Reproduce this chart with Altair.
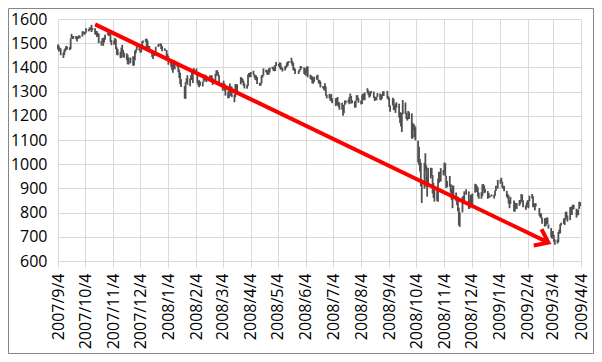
import altair as alt
import pandas as pd

# ---- data (daily low / high) ----
months = ["2007-09", "2007-10", "2007-11", "2007-12", "2008-01", "2008-02", "2008-03",
          "2008-04", "2008-05", "2008-06", "2008-07", "2008-08", "2008-09", "2008-10",
          "2008-11", "2008-12", "2009-01", "2009-02", "2009-03", "2009-04"]

days = [
    [4, 5, 6, 7, 10, 11, 12, 13, 14, 17, 18, 19, 20, 21, 24, 25, 26, 27, 28],
    [1, 2, 3, 4, 5, 8, 9, 10, 11, 12, 15, 16, 17, 18, 19, 22, 23, 24, 25, 26, 29, 30, 31],
    [1, 2, 5, 6, 7, 8, 9, 12, 13, 14, 15, 16, 19, 20, 21, 23, 26, 27, 28, 29, 30],
    [3, 4, 5, 6, 7, 10, 11, 12, 13, 14, 17, 18, 19, 20, 21, 24, 26, 27, 28, 31],
    [2, 3, 4, 7, 8, 9, 10, 11, 14, 15, 16, 17, 18, 22, 23, 24, 25, 28, 29, 30, 31],
    [1, 4, 5, 6, 7, 8, 11, 12, 13, 14, 15, 19, 20, 21, 22, 25, 26, 27, 28, 29],
    [3, 4, 5, 6, 7, 10, 11, 12, 13, 14, 17, 18, 19, 20, 24, 25, 26, 27, 28, 31],
    [1, 2, 3, 4, 7, 8, 9, 10, 11, 14, 15, 16, 17, 18, 21, 22, 23, 24, 25, 28, 29, 30],
    [1, 2, 5, 6, 7, 8, 9, 12, 13, 14, 15, 16, 19, 20, 21, 22, 23, 27, 28, 29, 30],
    [2, 3, 4, 5, 6, 9, 10, 11, 12, 13, 16, 17, 18, 19, 20, 23, 24, 25, 26, 27, 30],
    [1, 2, 3, 7, 8, 9, 10, 11, 14, 15, 16, 17, 18, 21, 22, 23, 24, 25, 28, 29, 30, 31],
    [1, 4, 5, 6, 7, 8, 11, 12, 13, 14, 15, 18, 19, 20, 21, 22, 25, 26, 27, 28, 29],
    [2, 3, 4, 5, 8, 9, 10, 11, 12, 15, 16, 17, 18, 19, 22, 23, 24, 25, 26, 29, 30],
    [1, 2, 3, 6, 7, 8, 9, 10, 13, 14, 15, 16, 17, 20, 21, 22, 23, 24, 27, 28, 29, 30, 31],
    [3, 4, 5, 6, 7, 10, 11, 12, 13, 14, 17, 18, 19, 20, 21, 24, 25, 26, 28],
    [1, 2, 3, 4, 5, 8, 9, 10, 11, 12, 15, 16, 17, 18, 19, 22, 23, 24, 26, 29, 30, 31],
    [2, 5, 6, 7, 8, 9, 12, 13, 14, 15, 16, 20, 21, 22, 23, 26, 27, 28, 29, 30],
    [2, 3, 4, 5, 6, 9, 10, 11, 12, 13, 17, 18, 19, 20, 23, 24, 25, 26, 27],
    [2, 3, 4, 5, 6, 9, 10, 11, 12, 13, 16, 17, 18, 19, 20, 23, 24, 25, 26, 27, 30, 31],
    [1, 2, 3],
]

lows = [
    [1474, 1466, 1470, 1450, 1439, 1451, 1465, 1472, 1474, 1471, 1476, 1519, 1517, 1519, 1516, 1507, 1517, 1525, 1520],
    [1527, 1542, 1535, 1537, 1543, 1549, 1553, 1556, 1546, 1554, 1537, 1534, 1526, 1531, 1500, 1490, 1506, 1489, 1503, 1514, 1535, 1530, 1531],
    [1505, 1492, 1494, 1499, 1475, 1451, 1450, 1438, 1439, 1462, 1443, 1440, 1430, 1413, 1412, 1417, 1407, 1408, 1428, 1458, 1470],
    [1469, 1460, 1463, 1485, 1502, 1505, 1476, 1469, 1476, 1467, 1443, 1435, 1447, 1449, 1460, 1484, 1489, 1476, 1467, 1468],
    [1442, 1443, 1411, 1403, 1389, 1378, 1394, 1392, 1402, 1380, 1356, 1331, 1319, 1271, 1270, 1337, 1328, 1322, 1349, 1348, 1335],
    [1376, 1379, 1335, 1325, 1318, 1324, 1321, 1340, 1349, 1344, 1339, 1343, 1341, 1337, 1327, 1344, 1365, 1373, 1364, 1325],
    [1320, 1304, 1320, 1303, 1283, 1272, 1274, 1308, 1282, 1277, 1256, 1277, 1298, 1295, 1330, 1340, 1337, 1324, 1313, 1312],
    [1323, 1360, 1359, 1360, 1370, 1358, 1349, 1347, 1331, 1324, 1324, 1334, 1358, 1366, 1380, 1371, 1370, 1370, 1379, 1394, 1386, 1384],
    [1385, 1406, 1404, 1398, 1391, 1391, 1383, 1387, 1397, 1403, 1406, 1418, 1416, 1406, 1388, 1387, 1373, 1373, 1382, 1389, 1396],
    [1373, 1370, 1366, 1377, 1359, 1352, 1348, 1334, 1333, 1340, 1349, 1350, 1335, 1330, 1317, 1313, 1305, 1313, 1283, 1272, 1272],
    [1262, 1260, 1252, 1240, 1245, 1244, 1236, 1225, 1226, 1200, 1211, 1245, 1251, 1254, 1248, 1274, 1251, 1252, 1234, 1234, 1262, 1266],
    [1254, 1247, 1249, 1276, 1264, 1265, 1294, 1285, 1275, 1280, 1292, 1274, 1261, 1265, 1264, 1278, 1266, 1264, 1270, 1282, 1282],
    [1272, 1266, 1236, 1217, 1243, 1224, 1223, 1212, 1233, 1192, 1170, 1156, 1133, 1207, 1207, 1187, 1180, 1186, 1187, 1106, 1106],
    [1141, 1112, 1098, 1007, 996, 970, 909, 840, 899, 973, 907, 866, 908, 941, 952, 879, 860, 845, 848, 845, 922, 931, 928],
    [954, 967, 951, 902, 905, 906, 882, 852, 818, 868, 847, 830, 806, 747, 741, 801, 835, 846, 874],
    [815, 817, 837, 834, 818, 882, 885, 890, 867, 857, 857, 868, 896, 880, 883, 857, 862, 862, 866, 858, 870, 889],
    [899, 919, 927, 903, 898, 888, 864, 858, 837, 818, 836, 804, 805, 818, 815, 828, 836, 846, 844, 822],
    [811, 821, 829, 818, 847, 858, 822, 823, 809, 825, 787, 780, 776, 754, 742, 745, 752, 752, 734],
    [699, 692, 697, 679, 667, 672, 677, 713, 714, 747, 753, 749, 771, 779, 763, 769, 805, 790, 814, 814, 779, 788],
    [790, 815, 826],
]

highs = [
    [1496, 1489, 1481, 1478, 1462, 1474, 1479, 1489, 1486, 1484, 1520, 1539, 1529, 1530, 1530, 1518, 1529, 1532, 1532],
    [1549, 1549, 1547, 1544, 1562, 1558, 1565, 1565, 1576, 1563, 1562, 1549, 1550, 1542, 1540, 1509, 1521, 1520, 1524, 1535, 1545, 1541, 1553],
    [1545, 1513, 1511, 1521, 1516, 1483, 1475, 1464, 1482, 1493, 1472, 1461, 1458, 1452, 1440, 1441, 1446, 1429, 1469, 1474, 1488],
    [1482, 1472, 1486, 1508, 1511, 1518, 1519, 1511, 1489, 1488, 1468, 1461, 1464, 1461, 1485, 1497, 1499, 1498, 1488, 1479],
    [1472, 1456, 1447, 1423, 1428, 1410, 1431, 1420, 1418, 1416, 1391, 1378, 1351, 1323, 1339, 1355, 1368, 1354, 1368, 1385, 1385],
    [1397, 1396, 1381, 1345, 1347, 1342, 1341, 1369, 1369, 1370, 1351, 1368, 1363, 1368, 1355, 1374, 1388, 1388, 1380, 1368],
    [1335, 1331, 1345, 1334, 1310, 1300, 1321, 1333, 1321, 1321, 1288, 1331, 1331, 1330, 1360, 1357, 1353, 1345, 1334, 1328],
    [1371, 1377, 1376, 1381, 1386, 1372, 1368, 1367, 1360, 1336, 1337, 1367, 1369, 1396, 1391, 1388, 1386, 1396, 1399, 1403, 1398, 1404],
    [1410, 1422, 1414, 1421, 1419, 1404, 1398, 1405, 1408, 1420, 1424, 1426, 1440, 1427, 1419, 1400, 1394, 1387, 1392, 1406, 1404],
    [1400, 1396, 1386, 1404, 1404, 1370, 1366, 1362, 1353, 1361, 1366, 1370, 1350, 1348, 1342, 1323, 1323, 1335, 1321, 1288, 1291],
    [1285, 1290, 1272, 1273, 1274, 1278, 1257, 1255, 1254, 1234, 1246, 1263, 1263, 1267, 1278, 1292, 1282, 1264, 1260, 1263, 1285, 1285],
    [1273, 1263, 1285, 1292, 1289, 1297, 1314, 1305, 1294, 1300, 1302, 1300, 1279, 1277, 1279, 1294, 1292, 1276, 1289, 1301, 1301],
    [1303, 1281, 1275, 1243, 1275, 1270, 1244, 1250, 1256, 1250, 1214, 1214, 1211, 1265, 1255, 1213, 1197, 1220, 1215, 1210, 1170],
    [1167, 1161, 1153, 1097, 1072, 1022, 1006, 936, 1006, 1045, 995, 947, 985, 985, 985, 955, 922, 896, 893, 941, 969, 964, 984],
    [976, 1007, 1004, 952, 931, 951, 918, 898, 913, 911, 883, 866, 865, 820, 801, 865, 869, 888, 897],
    [888, 851, 873, 875, 879, 919, 917, 911, 904, 883, 884, 917, 918, 912, 898, 889, 881, 870, 875, 874, 891, 911],
    [935, 937, 944, 928, 911, 911, 890, 877, 872, 852, 865, 850, 841, 840, 839, 852, 852, 877, 874, 851],
    [830, 842, 851, 851, 870, 877, 868, 839, 836, 839, 819, 797, 796, 779, 777, 775, 780, 779, 751],
    [736, 712, 724, 708, 689, 689, 720, 730, 752, 758, 775, 778, 803, 804, 788, 823, 823, 826, 833, 832, 816, 810],
    [813, 845, 843],
]

# axis ticks: the 4th of every month
tick_months = [(2007, m) for m in range(9, 13)] + [(2008, m) for m in range(1, 13)] + [(2009, m) for m in range(1, 5)]
y_ticks = [600, 700, 800, 900, 1000, 1100, 1200, 1300, 1400, 1500, 1600]

# red trend arrow (start, tip) in data units
arrow_dates = ["2007-10-15", "2009-02-27"]
arrow_values = [1578, 676]

# ---- build tables ----
rows = []
for m, ds, lo, hi in zip(months, days, lows, highs):
    assert len(ds) == len(lo) == len(hi), m
    for d, l, h in zip(ds, lo, hi):
        rows.append({"date": f"{m}-{d:02d}", "low": l, "high": h})
df = pd.DataFrame(rows)

arrow_df = pd.DataFrame({"date": [arrow_dates[0]], "date2": [arrow_dates[1]],
                         "low": [arrow_values[0]], "high": [arrow_values[1]]})
tip_df = pd.DataFrame({"date": [arrow_dates[1]], "low": [arrow_values[1]]})

GRID = "#d9d9d9"
FONT = "Open Sans"
FS = 16
LABEL_EXPR = "utcFormat(datum.value, '%Y/%-m/%-d')"

x_scale = alt.Scale(type="utc", nice=False,
                    domain=[alt.DateTime(year=2007, month=9, date=4, utc=True),
                            alt.DateTime(year=2009, month=4, date=4, utc=True)])
y_scale = alt.Scale(domain=[600, 1600], nice=False, zero=False)

x_axis = alt.Axis(values=[alt.DateTime(year=y, month=m, date=4, utc=True) for y, m in tick_months],
                  labelExpr=LABEL_EXPR, title=None,
                  labelAngle=270, labelAlign="right", labelBaseline="middle",
                  labelPadding=6, tickSize=6, tickColor=GRID, domainColor=GRID,
                  gridColor=GRID, grid=True, labelFont=FONT, labelFontSize=FS,
                  labelColor="#000000", labelOverlap=False)
y_axis = alt.Axis(values=y_ticks, format="d", title=None, grid=True, gridColor=GRID, domain=False,
                  ticks=False, tickSize=0, labelPadding=11, labelFont=FONT,
                  labelFontSize=FS, labelColor="#000000", labelOverlap=False)


def X(field):
    return alt.X(field, type="temporal", scale=x_scale, axis=x_axis)


def Y(field):
    return alt.Y(field, type="quantitative", scale=y_scale, axis=y_axis)


bars = alt.Chart(df).mark_rule(strokeWidth=1.8, color="#505050").encode(
    x=X("date"), y=Y("low"), y2="high",
)

arrow_line = alt.Chart(arrow_df).mark_rule(strokeWidth=4, color="#ff0000").encode(
    x=X("date"), x2="date2", y=Y("low"), y2="high",
)

arrow_head = alt.Chart(tip_df).mark_point(
    shape="M-0.8,-0.6L0,0L-0.8,0.6", filled=False, size=900, angle=25.7,
    strokeWidth=4, color="#ff0000", opacity=1, strokeJoin="miter", strokeCap="butt",
).encode(x=X("date"), y=Y("low"))

border = alt.Chart(pd.DataFrame({"a": [0]})).mark_rect(
    filled=False, color="#868686", strokeWidth=1,
).encode(x=alt.value(-49.5), x2=alt.value(535.5), y=alt.value(-10.5), y2=alt.value(334.5))

chart = alt.layer(bars, arrow_line, arrow_head, border).properties(
    width=523, height=242,
    padding={"left": 50, "top": 11, "right": 13, "bottom": 93},
    autosize=alt.AutoSizeParams(type="none"),
    background="#ffffff",
).configure_view(strokeWidth=0).configure_axis(
    labelFont=FONT, labelFontSize=FS, labelColor="#000000",
)

chart.save("out.html", embed_options={"renderer": "svg", "actions": False})
